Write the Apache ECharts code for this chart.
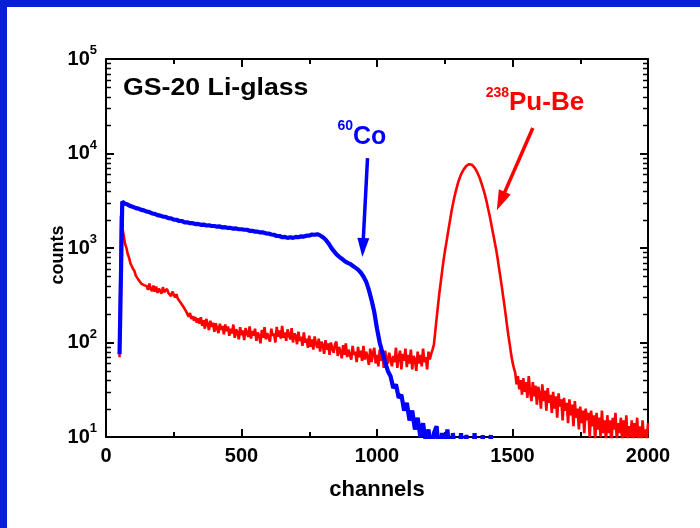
<!DOCTYPE html>
<html><head><meta charset="utf-8">
<script src="https://cdn.jsdelivr.net/npm/echarts@6/dist/echarts.min.js"></script>
<style>
html,body{margin:0;padding:0;background:#fff;}
#wrap{position:relative;width:700px;height:528px;overflow:hidden;background:#fff;}
#frameTop{position:absolute;left:0;top:0;width:700px;height:7px;background:#0620d2;}
#frameLeft{position:absolute;left:0;top:0;width:7px;height:528px;background:#0620d2;}
#chart{position:absolute;left:0;top:0;width:700px;height:528px;}
</style></head><body>
<div id="wrap"><div id="chart"></div><div id="frameTop"></div><div id="frameLeft"></div></div>
<script>
// ---- data ----
// 238Pu-Be spectrum: counts on channels 50, 55, 60, ... 2000
const puBeChannels = Array.from({length: 391}, (_, i) => 50 + 5 * i);
const puBeCounts = [
  70, 2200, 1650, 1380, 1120, 1010, 870, 790, 690, 660, 600, 570, 510, 500, 460, 455, 420, 435, 405, 410,      // 50-145
  395, 360, 420, 370, 350, 400, 345, 390, 335, 372, 360, 330, 385, 340, 325, 370, 335, 350, 310, 345,          // 150-245
  335, 300, 325, 290, 300, 265, 270, 240, 228, 215, 210, 188, 205, 178, 190, 170, 186, 162, 180, 158,          // 250-345
  185, 150, 172, 140, 178, 158, 135, 170, 146, 162, 130, 160, 141, 126, 158, 136, 150, 122, 155, 132,          // 350-445
  148, 118, 140, 125, 155, 112, 138, 128, 108, 145, 120, 134, 106, 142, 126, 115, 148, 110, 132, 118,          // 450-545
  140, 104, 128, 118, 98, 136, 112, 145, 108, 126, 132, 102, 140, 118, 124, 100, 146, 115, 134, 110,           // 550-645
  150, 112, 128, 104, 138, 120, 108, 142, 100, 125, 118, 96, 130, 104, 115, 92, 128, 100, 110, 88,             // 650-745
  118, 90, 108, 84, 116, 96, 88, 110, 80, 102, 94, 76, 106, 84, 98, 74, 100, 86, 78, 96,                       // 750-845
  102, 72, 90, 80, 68, 94, 74, 98, 70, 84, 88, 66, 92, 74, 80, 62, 90, 70, 82, 64,                             // 850-945
  92, 66, 80, 70, 58, 86, 62, 78, 88, 60, 74, 56, 84, 64, 76, 54, 82, 66, 60, 78,                              // 950-1045
  80, 56, 72, 62, 88, 54, 70, 82, 52, 76, 64, 86, 55, 74, 60, 84, 52, 72, 66, 50,                              // 1050-1145
  80, 60, 74, 56, 86, 62, 70, 52, 80, 66, 76, 84, 95, 130, 180, 245, 330, 430, 560, 720,                       // 1150-1245
  900, 1100, 1350, 1650, 2000, 2450, 2900, 3400, 3900, 4450, 5000, 5500, 6000, 6400, 6800, 7100, 7400, 7600, 7700, 7700, // 1250-1345
  7600, 7400, 7100, 6700, 6300, 5850, 5400, 4900, 4400, 3950, 3500, 3050, 2600, 2250, 1900, 1600, 1350, 1130, 950, 780, // 1350-1445
  620, 500, 400, 315, 250, 195, 150, 118, 95, 75, 62, 54, 48, 36, 44, 32, 40, 28, 42, 30,                      // 1450-1545
  38, 26, 44, 30, 24, 38, 27, 35, 22, 34, 29, 20, 36, 24, 31, 19, 33, 23, 28, 18,                              // 1550-1645
  30, 20, 27, 16, 29, 21, 25, 15, 26, 19, 23, 14, 25, 17, 22, 13, 24, 16, 20, 12,                              // 1650-1745
  21, 14, 19, 11, 20, 15, 18, 10, 19, 13, 17, 9, 18, 12, 16, 10, 19, 11, 15, 9,                                // 1750-1845
  17, 11, 15, 8, 16, 12, 18, 9, 14, 11, 16, 8, 15, 10, 17, 9, 13, 10, 15, 8,                                   // 1850-1945
  14, 10, 16, 9, 13, 8, 15, 10, 12, 9, 14                                                                      // 1950-2000
];

// 60Co spectrum: counts on channels 50, 60, 70, ... 1430
const coChannels = Array.from({length: 139}, (_, i) => 50 + 10 * i);
const coCounts = [
  75, 3100, 2950, 2880, 2780, 2720, 2640, 2610, 2530, 2500,   // 50-140
  2430, 2400, 2320, 2300, 2230, 2200, 2150, 2140, 2070, 2060, // 150-240
  2000, 1990, 1930, 1930, 1870, 1870, 1830, 1830, 1790, 1800, // 250-340
  1760, 1770, 1730, 1740, 1710, 1710, 1680, 1690, 1650, 1660, // 350-440
  1630, 1630, 1600, 1610, 1580, 1580, 1560, 1560, 1520, 1520, // 450-540
  1490, 1490, 1460, 1460, 1430, 1420, 1390, 1380, 1340, 1340, // 550-640
  1300, 1310, 1280, 1300, 1280, 1310, 1300, 1330, 1320, 1350, // 650-740
  1350, 1390, 1380, 1400, 1360, 1300, 1230, 1130, 1020, 930,  // 750-840
  860, 810, 770, 730, 700, 680, 650, 620, 590, 550,           // 850-940
  500, 440, 360, 280, 210, 140, 100, 78, 62, 50,              // 950-1040
  44, 33, 36, 26, 28, 19, 23, 15, 19, 12,                     // 1050-1140
  16, 10, 14, 9, 12, 7, 11, 13, 6, 11,                        // 1150-1240
  8, 12, 5, 11, 6, 4, 11, 5, 10.5, 4,                         // 1250-1340
  3, 11, 4, 3, 10.5, 3, 4, 10.5, 3                            // 1350-1430
];

const xTicks = {min: 0, max: 2000, interval: 500};
const yRange = {min: 10, max: 100000};

// annotations, anchored in data coordinates [channel, counts]
const titleText = 'GS-20 Li-glass';
const titleAt = [63, 48000];
const coLabel = {sup: '60', main: 'Co', at: [854, 15000]};
const coArrow = [[965, 8950], [946, 804]];
const puLabel = {sup: '238', main: 'Pu-Be', at: [1401, 34000]};
const puArrow = [[1575, 18600], [1442, 2510]];
const xName = 'channels', yName = 'counts';

// ---- chart ----
const FONT = '"Liberation Sans", Arial, Helvetica, sans-serif';
const RED = '#ff0000', BLUE = '#0000ff';
const chart = echarts.init(document.getElementById('chart'), null, {renderer: 'canvas'});

const axisLineStyle = {color: '#000', width: 2};
function xAxisCfg(pos, labels) {
  return {
    type: 'value', position: pos, min: xTicks.min, max: xTicks.max, interval: xTicks.interval,
    axisLine: {show: true, onZero: false, lineStyle: axisLineStyle},
    axisTick: {show: true, inside: true, length: 8, lineStyle: {color: '#000', width: 2}},
    minorTick: {show: true, splitNumber: 2, length: 5, lineStyle: {color: '#000', width: 2}},
    splitLine: {show: false}, minorSplitLine: {show: false},
    axisLabel: labels ? {color: '#000', fontSize: 20, fontWeight: 'bold', fontFamily: FONT, margin: 9,
                         formatter: v => String(v)} : {show: false},
    name: labels ? xName : '', nameLocation: 'middle', nameGap: 42,
    nameTextStyle: {color: '#000', fontSize: 22, fontWeight: 'bold', fontFamily: FONT}
  };
}
function yAxisCfg(pos, labels) {
  return {
    type: 'log', logBase: 10, position: pos, min: yRange.min, max: yRange.max, splitNumber: 4,
    axisLine: {show: true, onZero: false, lineStyle: axisLineStyle},
    axisTick: {show: true, inside: true, length: 8, lineStyle: {color: '#000', width: 2}},
    minorTick: {show: false},
    splitLine: {show: false},
    axisLabel: labels ? {
      margin: 9,
      formatter: v => '{b|10}{s|' + Math.round(Math.log10(v)) + '}',
      rich: {
        b: {color: '#000', fontSize: 20, fontWeight: 'bold', fontFamily: FONT, lineHeight: 30},
        s: {color: '#000', fontSize: 13, fontWeight: 'bold', fontFamily: FONT, lineHeight: 13, verticalAlign: 'top'}
      }
    } : {show: false}
  };
}

chart.setOption({
  animation: false,
  backgroundColor: '#fff',
  grid: {left: 106, right: 52, top: 59, bottom: 91},
  xAxis: [xAxisCfg('bottom', true), xAxisCfg('top', false)],
  yAxis: [yAxisCfg('left', true), yAxisCfg('right', false)],
  series: [
    {name: '238Pu-Be', type: 'line', xAxisIndex: 0, yAxisIndex: 0, symbol: 'none', clip: true,
     data: puBeCounts.map((v, i) => [puBeChannels[i], v]),
     lineStyle: {color: RED, width: 2.6}, z: 2},
    {name: '60Co', type: 'line', xAxisIndex: 0, yAxisIndex: 0, symbol: 'none', clip: true,
     data: coCounts.map((v, i) => [coChannels[i], v]),
     lineStyle: {color: BLUE, width: 4.2}, z: 3}
  ]
});

function px(pt) { return chart.convertToPixel({xAxisIndex: 0, yAxisIndex: 0}, pt); }

const g = [];
// logarithmic minor ticks (2..9 per decade) on left and right axes
const xl = px([xTicks.min, 10])[0], xr = px([xTicks.max, 10])[0];
const yb = px([0, yRange.min])[1], yt = px([0, yRange.max])[1];
for (let d = 1; d < 5; d++) {
  for (let k = 2; k <= 9; k++) {
    const y = Math.round(px([0, k * Math.pow(10, d)])[1]) + 0.5;
    g.push({type: 'line', shape: {x1: xl, y1: y, x2: xl + 5, y2: y}, style: {stroke: '#000', lineWidth: 1.5}, silent: true});
    g.push({type: 'line', shape: {x1: xr, y1: y, x2: xr - 5, y2: y}, style: {stroke: '#000', lineWidth: 1.5}, silent: true});
  }
}
function arrow(a, b, color, w, headLen, headW) {
  const p0 = px(a), p1 = px(b);
  const dx = p1[0] - p0[0], dy = p1[1] - p0[1], L = Math.hypot(dx, dy);
  const ux = dx / L, uy = dy / L, nx = -uy, ny = ux;
  const bx = p1[0] - ux * headLen, by = p1[1] - uy * headLen;
  g.push({type: 'line', shape: {x1: p0[0], y1: p0[1], x2: bx + ux * 2, y2: by + uy * 2}, style: {stroke: color, lineWidth: w}, z: 10});
  g.push({type: 'polygon', shape: {points: [[p1[0], p1[1]], [bx + nx * headW, by + ny * headW], [bx - nx * headW, by - ny * headW]]}, style: {fill: color}, z: 10});
}
arrow(coArrow[0], coArrow[1], BLUE, 3.5, 19, 6);
arrow(puArrow[0], puArrow[1], RED, 3.5, 20, 6.5);

function supLabel(lbl, color, supSize, mainSize, lh) {
  const p = px(lbl.at);
  g.push({type: 'text', x: p[0], y: p[1], z: 10, style: {
    text: '{s|' + lbl.sup + '}{m|' + lbl.main + '}', align: 'left', verticalAlign: 'middle',
    rich: {
      s: {fill: color, fontSize: supSize, fontWeight: 'bold', fontFamily: FONT, lineHeight: supSize, verticalAlign: 'top'},
      m: {fill: color, fontSize: mainSize, fontWeight: 'bold', fontFamily: FONT, lineHeight: lh}
    }
  }});
}
supLabel(coLabel, BLUE, 14, 25, 36);
supLabel(puLabel, RED, 14, 26, 34);

const tp = px(titleAt);
g.push({type: 'text', x: tp[0], y: tp[1], scaleX: 1.16, z: 10, style: {
  text: titleText, fill: '#000', fontSize: 23, fontWeight: 'bold', fontFamily: FONT, align: 'left', verticalAlign: 'middle'
}});
// y axis name (rotated), centred slightly below the plot middle as in the source
g.push({type: 'text', x: xl - 48, y: (yb + yt) / 2 + 7, rotation: Math.PI / 2, z: 10, style: {
  text: yName, fill: '#000', fontSize: 18, fontWeight: 'bold', fontFamily: FONT, align: 'center', verticalAlign: 'middle'
}});

chart.setOption({graphic: g});
</script></body></html>
